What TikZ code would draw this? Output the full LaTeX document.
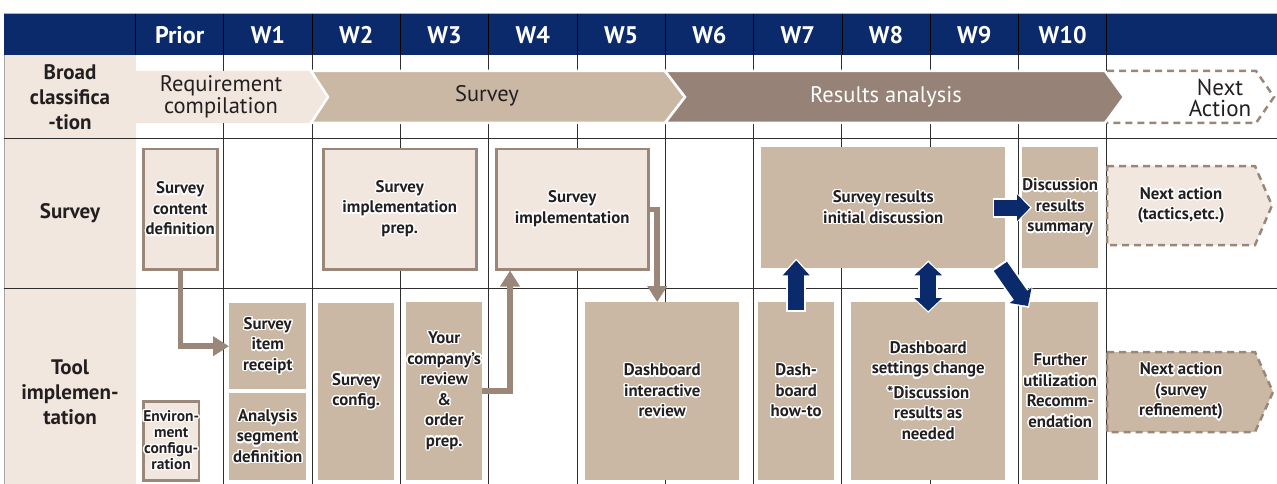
\documentclass[tikz,border=0pt]{standalone}
\usepackage{fontspec}
\setmainfont{PT Sans}
\usepackage{contour}
\contourlength{1.3pt}
\contournumber{24}
\usetikzlibrary{arrows.meta,calc}
\definecolor{navy}{HTML}{0A2A6B}
\definecolor{lightc}{HTML}{F1E7DE}
\definecolor{tanc}{HTML}{CBB8A4}
\definecolor{taupe}{HTML}{968276}
\definecolor{brownc}{HTML}{9B877A}
\definecolor{inkc}{HTML}{231F20}
\definecolor{gridc}{HTML}{2E2E2E}
\newcommand\hw[1]{\contour{white}{#1}}
\tikzset{
  hdr/.style={text=white, font=\fontsize{24}{26}\selectfont\bfseries},
  rowlab/.style={text=inkc, align=center, font=\fontsize{21}{25}\selectfont\bfseries},
  broadlab/.style={text=inkc, align=center, font=\fontsize{22.5}{20}\selectfont},
  boxtext/.style={text=inkc, align=center, font=\fontsize{16.8}{20.5}\selectfont\bfseries, inner sep=0pt},
  tanbox/.style={boxtext, fill=tanc, anchor=north west},
  litebox/.style={boxtext, fill=lightc, draw=brownc, line width=2.5pt, anchor=north west},
  gridline/.style={draw=gridc, line width=0.9pt},
  conn/.style={draw=brownc, line width=5.5pt, -{Triangle[length=16pt,width=19pt]}},
  dashbox/.style={draw=brownc, line width=2.5pt, dash pattern=on 7pt off 5pt},
  bluebase/.style={draw=white, line width=20pt},
  bluetop/.style={draw=navy, line width=16pt},
}
\begin{document}
\begin{tikzpicture}[x=1pt,y=-1pt]
\useasboundingbox (0,0) rectangle (1277,484);
% header
\fill[navy] (4,14) rectangle (1277,55);
\draw[gray!60, line width=0.8pt] (4,13.5) -- (1277,13.5);
\foreach \k in {1,...,11} \draw[black, line width=0.8pt] ({135.5+88.3*\k},14) -- ({135.5+88.3*\k},55);
\draw[black, line width=0.8pt] (135.5,14) -- (135.5,55);
\foreach \t [count=\i from 0] in {Prior,W1,W2,W3,W4,W5,W6,W7,W8,W9,W10}
  \node[hdr] (h\i) at ({135.5+88.3*\i+44.15},35) {\t};
% label column
\fill[lightc] (4,55) rectangle (135.5,484);
\draw[gray!70, line width=0.8pt] (4,55) -- (4,484);
% grid
\draw[gridline] (4,138) -- (1277,138);
\draw[gridline] (4,288) -- (1277,288);
\foreach \k in {1,...,11} {
  \draw[gridline] ({135.5+88.3*\k},138) -- ({135.5+88.3*\k},484);
  \draw[gridline] ({135.5+88.3*\k},55) -- ({135.5+88.3*\k},71);
  \draw[gridline] ({135.5+88.3*\k},123) -- ({135.5+88.3*\k},138);
}
% row labels
\node[rowlab] (lb) at (70,97) {Broad\\classifica\\-tion};
\node[rowlab] (ls) at (70,213) {Survey};
\node[rowlab] (lt) at (70,392) {Tool\\implemen-\\tation};
% broad classification chevrons
\fill[lightc] (135.5,71) -- (311,71) -- (328,97) -- (311,123) -- (135.5,123) -- cycle;
\filldraw[fill=tanc, draw=white, line width=2.5pt] (311,71) -- (665,71) -- (685,97) -- (665,123) -- (311,123) -- (328,97) -- cycle;
\filldraw[fill=taupe, draw=white, line width=2.5pt] (665,71) -- (1105,71) -- (1124,97) -- (1105,123) -- (665,123) -- (685,97) -- cycle;
\draw[dashbox] (1107,71) -- (1256,71) -- (1274,97) -- (1256,123) -- (1107,123);
\node[broadlab] (rc) at (221,97) {Requirement\\compilation};
\node[broadlab] (sv) at (487,96) {Survey};
\node[broadlab, text=white] (ra) at (886,97) {Results analysis};
\node[broadlab, font=\fontsize{23}{21.5}\selectfont] (nxa) at (1220,98) {Next\\Action};
% survey row
\node[litebox, minimum width=74pt, minimum height=120pt] (scd) at (142,148) {\hw{Survey}\\\hw{content}\\\hw{definition}};
\node[litebox, minimum width=153pt, minimum height=120pt] (sip) at (322,148) {\hw{Survey}\\\hw{implementation}\\\hw{prep.}};
\node[litebox, minimum width=152pt, minimum height=120pt] (si) at (495,148) {\hw{Survey}\\\hw{implementation}};
\node[tanbox, minimum width=244pt, minimum height=121pt] (srd) at (761,147) {\hw{Survey results}\\\hw{initial discussion}};
\node[tanbox, minimum width=76pt, minimum height=121pt] (drs) at (1022,147) {\hw{Discussion}\\\hw{results}\\\hw{summary}};
\filldraw[fill=lightc, dashbox] (1107,166) -- (1255,166) -- (1272,205.5) -- (1255,245) -- (1107,245) -- cycle;
\node[boxtext] (na1) at (1181,206) {\hw{Next action}\\\hw{(tactics,etc.)}};
% tool row
\node[tanbox, minimum width=77pt, minimum height=86pt] (sir) at (229,303) {\hw{Survey}\\\hw{item}\\\hw{receipt}};
\node[tanbox, minimum width=77pt, minimum height=87pt] (asd) at (229,393) {\hw{Analysis}\\\hw{segment}\\\hw{definition}};
\node[litebox, minimum width=51pt, minimum height=79pt, font=\fontsize{15.5}{16}\selectfont\bfseries] (ec) at (142,400) {\hw{Environ-}\\\hw{ment}\\\hw{configu-}\\\hw{ration}};
\node[tanbox, minimum width=76pt, minimum height=177pt] (sc) at (318,303) {\hw{Survey}\\\hw{config.}};
\node[tanbox, minimum width=76pt, minimum height=178pt] (ycr) at (406,302) {\hw{Your}\\\hw{company's}\\\hw{review}\\\hw{\&}\\\hw{order}\\\hw{prep.}};
\node[tanbox, minimum width=154pt, minimum height=178pt] (dir) at (585,302) {\hw{Dashboard}\\\hw{interactive}\\\hw{review}};
\node[tanbox, minimum width=76pt, minimum height=178pt] (howto) at (758,302) {\hw{Dash-}\\\hw{board}\\\hw{how-to}};
\node[tanbox, minimum width=154pt, minimum height=178pt] (dsc) at (851,302) {\hw{Dashboard}\\\hw{settings change}\\[4pt]\fontsize{16.8}{18.5}\selectfont \hw{*Discussion}\\\hw{results as}\\\hw{needed}};
\node[tanbox, minimum width=76pt, minimum height=178pt] (fu) at (1022,302) {\hw{Further}\\\hw{utilization}\\\hw{Recomm-}\\\hw{endation}};
\filldraw[fill=tanc, dashbox] (1107,352) -- (1255,352) -- (1273,392) -- (1255,432) -- (1107,432) -- cycle;
\node[boxtext] (na2) at (1181,392) {\hw{Next action}\\\hw{(survey}\\\hw{refinement)}};
% brown connectors
\draw[conn] (scd.south) |- (sir.west);
\draw[conn] (si.east) -| ([xshift=-5pt]dir.north);
\draw[conn] (ycr.east) -| ([xshift=15pt]si.south west);
% blue arrows
\draw[bluebase, -{Triangle[length=18pt,width=31pt]}, shorten <=-10pt, shorten >=-10pt] (howto.north) -- (howto.north |- srd.south);
\draw[bluetop, -{Triangle[length=15pt,width=26pt]}, shorten <=-8pt, shorten >=-8pt] (howto.north) -- (howto.north |- srd.south);
\draw[bluebase, {Triangle[length=16pt,width=31pt]}-{Triangle[length=16pt,width=31pt]}, shorten <=-11pt, shorten >=-8pt] (dsc.north) -- (dsc.north |- srd.south);
\draw[bluetop, {Triangle[length=13pt,width=27pt]}-{Triangle[length=13pt,width=27pt]}, shorten <=-9pt, shorten >=-6pt] (dsc.north) -- (dsc.north |- srd.south);
\draw[bluebase, -{Triangle[length=16pt,width=30pt]}, shorten <=-12pt, shorten >=-10pt] (srd.east) -- (drs.west);
\draw[bluetop, -{Triangle[length=13pt,width=26pt]}, shorten <=-11pt, shorten >=-8pt] (srd.east) -- (drs.west);
\draw[bluebase, -{Triangle[length=16pt,width=30pt]}] ([xshift=-6pt,yshift=4pt]srd.south east) -- ([xshift=7pt,yshift=-6pt]fu.north west);
\draw[bluetop, -{Triangle[length=13pt,width=26pt]}] ([xshift=-5pt,yshift=2pt]srd.south east) -- ([xshift=6pt,yshift=-4pt]fu.north west);
\end{tikzpicture}
\end{document}
